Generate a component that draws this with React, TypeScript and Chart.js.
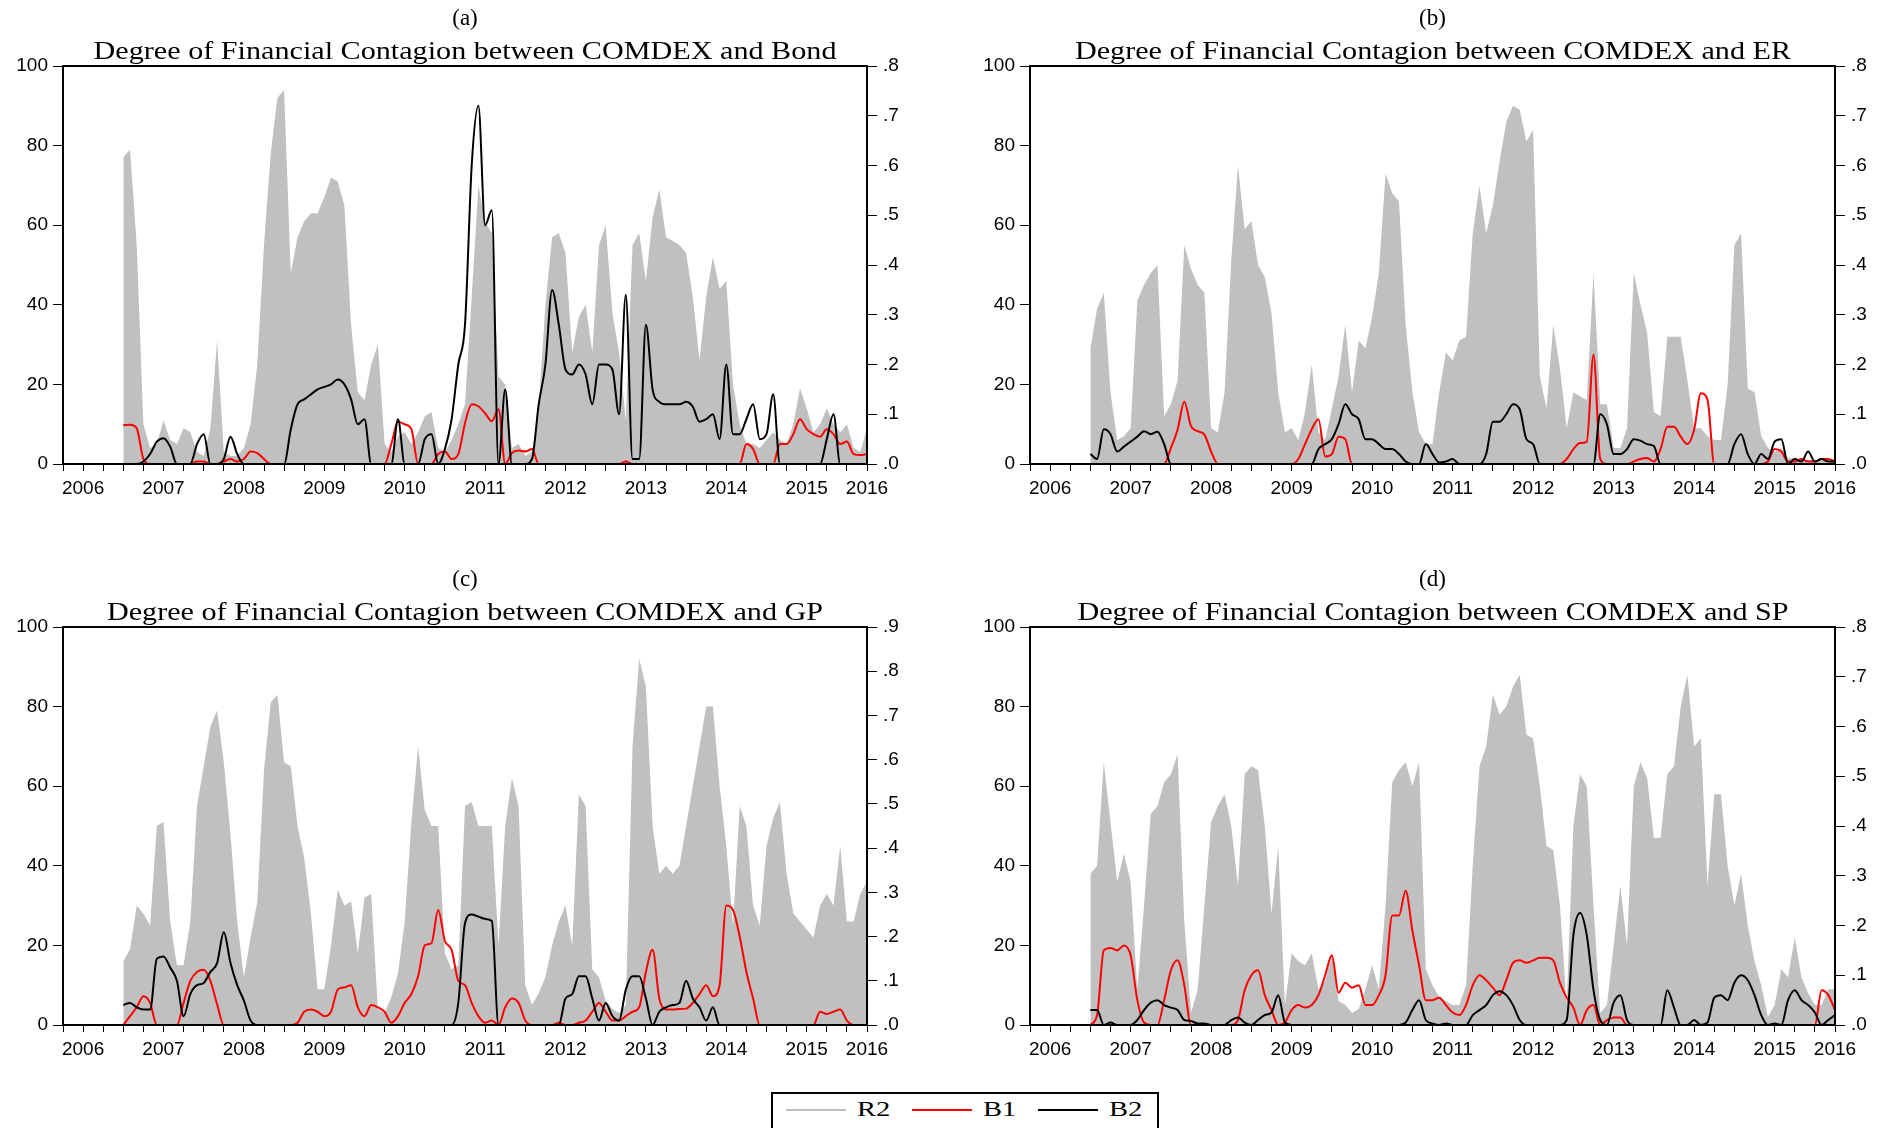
import React, { useEffect, useRef } from 'react';
import { Chart, registerables } from 'chart.js';

Chart.register(...registerables);

// x axis: months counted from Oct 2005 (0) to Sep 2015 (120); data start in July 2006 (month 9)
const START_MONTH = 9;
const X_MAX = 120;
const YEAR_LABELS = ['2006', '2007', '2008', '2009', '2010', '2011', '2012', '2013', '2014', '2015', '2016'];
const YEAR_LABEL_POS = [3, 15, 27, 39, 51, 63, 75, 87, 99, 111, 120];
const LEGEND_LABELS = ['R2', 'B1', 'B2'];

// ---------- (a) COMDEX and Bond ----------
const R2_A = [
  77, 79, 55, 10, 4, 5, 11, 6, 5, 9, 8, 3,
  2, 9, 31, 3, 2, 2, 4, 10, 25, 55, 78, 92,
  94, 48, 57, 61, 63, 63, 67, 72, 71, 65, 35, 18,
  16, 25, 30, 5, 3, 7, 8, 5, 8, 12, 13, 4,
  3, 6, 10, 15, 42, 70, 61, 58, 22, 20, 4, 5,
  2, 3, 14, 40, 57, 58, 53, 28, 37, 40, 28, 55,
  60, 38, 28, 11, 55, 58, 46, 62, 69, 57, 56, 55,
  53, 42, 26, 42, 52, 44, 46, 20, 10, 5, 5, 4,
  6, 8, 6, 5, 10, 19, 14, 8, 10, 14, 10, 8,
  10, 4, 3, 9,
];
const B1_A = [
  0.078, 0.079, 0.072, 0.01, 0, 0, 0, 0, 0, 0, 0, 0.005,
  0.005, 0, 0, 0.005, 0.01, 0.005, 0.01, 0.025, 0.022, 0.01, 0, 0,
  0, 0, 0, 0, 0, 0, 0, 0, 0, 0, 0, 0,
  0, 0, 0, 0, 0.04, 0.085, 0.08, 0.07, 0, 0, 0, 0.02,
  0.025, 0.01, 0.02, 0.082, 0.12, 0.116, 0.102, 0.086, 0.11, 0, 0.022, 0.027,
  0.025, 0.03, 0, 0, 0, 0, 0, 0, 0, 0, 0, 0,
  0, 0, 0, 0.005, 0, 0, 0, 0, 0, 0, 0, 0,
  0, 0, 0, 0, 0, 0, 0, 0, 0, 0.04, 0.03, 0,
  0, 0, 0.04, 0.04, 0.06, 0.09, 0.07, 0.06, 0.055, 0.07, 0.06, 0.04,
  0.045, 0.02, 0.018, 0.02,
];
const B2_A = [
  0, 0, 0, 0.005, 0.02, 0.045, 0.052, 0.035, 0, 0, 0, 0.04,
  0.06, 0, 0, 0.01, 0.055, 0.02, 0, 0, 0, 0, 0, 0,
  0, 0.07, 0.12, 0.13, 0.14, 0.15, 0.155, 0.16, 0.17, 0.16, 0.13, 0.08,
  0.09, 0, 0, 0, 0, 0.09, 0, 0, 0, 0.05, 0.06, 0,
  0.03, 0.09, 0.2, 0.28, 0.6, 0.72, 0.48, 0.51, 0, 0.15, 0, 0,
  0, 0.01, 0.12, 0.2, 0.35, 0.28, 0.19, 0.18, 0.2, 0.18, 0.12, 0.2,
  0.2, 0.19, 0.1, 0.34, 0.01, 0.01, 0.28, 0.15, 0.125, 0.12, 0.12, 0.12,
  0.125, 0.115, 0.085, 0.09, 0.1, 0.05, 0.2, 0.06, 0.06, 0.09, 0.12, 0.05,
  0.06, 0.14, 0, 0, 0, 0, 0, 0, 0, 0.05, 0.1, 0,
  0, 0, 0, 0,
];

// ---------- (b) COMDEX and ER ----------
const R2_B = [
  29, 39, 43, 18, 6, 7, 9, 41, 45, 48, 50, 12,
  15, 21, 55, 49, 45, 43, 9, 8, 18, 51, 75, 59,
  61, 50, 47, 38, 18, 8, 9, 6, 13, 25, 8, 6,
  14, 22, 35, 18, 31, 29, 37, 48, 73, 68, 66, 35,
  18, 8, 5, 5, 18, 28, 26, 31, 32, 58, 70, 58,
  65, 76, 86, 90, 89, 81, 84, 22, 14, 35, 24, 9,
  18, 17, 16, 48, 15, 15, 4, 4, 9, 48, 40, 33,
  13, 12, 32, 32, 32, 21, 9, 9, 7, 6, 6, 20,
  55, 58, 19, 18, 7, 4, 3, 4, 1.5, 1.5, 1, 1,
  1, 1, 1, 1,
];
const B1_B = [
  0, 0, 0, 0, 0, 0, 0, 0, 0, 0, 0, 0,
  0.032, 0.069, 0.125, 0.076, 0.066, 0.059, 0.025, 0, 0, 0, 0, 0,
  0, 0, 0, 0, 0, 0, 0, 0.01, 0.04, 0.07, 0.09, 0.015,
  0.02, 0.055, 0.05, 0, 0, 0, 0, 0, 0, 0, 0, 0,
  0, 0, 0, 0, 0, 0, 0, 0, 0, 0, 0, 0,
  0, 0, 0, 0, 0, 0, 0, 0, 0, 0, 0, 0.01,
  0.03, 0.042, 0.045, 0.22, 0.01, 0, 0, 0, 0, 0.005, 0.01, 0.012,
  0.005, 0.03, 0.075, 0.075, 0.055, 0.04, 0.069, 0.142, 0.129, 0, 0, 0,
  0, 0, 0, 0, 0, 0.005, 0.03, 0.025, 0.005, 0.005, 0.01, 0.005,
  0.005, 0.01, 0.01, 0.005,
];
const B2_B = [
  0.02, 0.01, 0.07, 0.06, 0.025, 0.035, 0.045, 0.055, 0.066, 0.06, 0.065, 0.04,
  0, 0, 0, 0, 0, 0, 0, 0, 0, 0, 0, 0,
  0, 0, 0, 0, 0, 0, 0, 0, 0, 0, 0.03, 0.04,
  0.05, 0.08, 0.12, 0.1, 0.09, 0.05, 0.05, 0.04, 0.03, 0.03, 0.02, 0.005,
  0, 0, 0.04, 0.02, 0.003, 0.005, 0.01, 0, 0, 0, 0, 0.02,
  0.085, 0.085, 0.1, 0.12, 0.11, 0.05, 0.04, 0, 0, 0, 0, 0,
  0, 0, 0, 0, 0.1, 0.08, 0.02, 0.02, 0.03, 0.05, 0.047, 0.04,
  0.036, 0, 0, 0, 0, 0, 0, 0, 0, 0, 0, 0,
  0.04, 0.06, 0.02, 0, 0.02, 0.01, 0.045, 0.05, 0, 0.01, 0.005, 0.025,
  0.005, 0.01, 0.005, 0.005,
];

// ---------- (c) COMDEX and GP ----------
const R2_C = [
  16, 19, 30, 28, 25, 50, 51, 26, 15, 15, 26, 55,
  65, 75, 79, 66, 48, 26, 12, 22, 31, 64, 81, 83,
  66, 65, 50, 42, 28, 9, 9, 20, 34, 30, 31, 18,
  32, 33, 4, 3, 7, 13, 26, 51, 70, 54, 50, 50,
  18, 14, 15, 55, 56, 50, 50, 50, 20, 50, 62, 55,
  10, 5, 8, 12, 20, 26, 30, 20, 58, 55, 14, 12,
  6, 4, 3, 5, 70, 92, 85, 50, 38, 40, 38, 40,
  50, 60, 70, 80, 80, 60, 45, 25, 55, 50, 30, 25,
  45, 52, 56, 38, 28, 26, 24, 22, 30, 33, 30, 45,
  26, 26, 33, 36,
];
const B1_C = [
  0, 0.02, 0.04, 0.065, 0.05, 0, 0, 0, 0, 0.05, 0.1, 0.12,
  0.125, 0.1, 0.047, 0, 0, 0, 0, 0, 0, 0, 0, 0,
  0, 0, 0.005, 0.03, 0.035, 0.03, 0.02, 0.03, 0.08, 0.085, 0.09, 0.04,
  0.02, 0.045, 0.04, 0.03, 0.005, 0.02, 0.05, 0.07, 0.11, 0.18, 0.185, 0.26,
  0.19, 0.17, 0.1, 0.09, 0.05, 0.02, 0.005, 0.01, 0, 0.04, 0.06, 0.05,
  0.01, 0, 0, 0, 0, 0.005, 0, 0, 0.005, 0.01, 0.03, 0.05,
  0.03, 0.01, 0.01, 0.02, 0.03, 0.04, 0.12, 0.17, 0.06, 0.035, 0.035, 0.036,
  0.037, 0.05, 0.07, 0.09, 0.065, 0.09, 0.27, 0.26, 0.2, 0.12, 0.06, 0,
  0, 0, 0, 0, 0, 0, 0, 0, 0.03, 0.025, 0.03, 0.035,
  0.01, 0, 0, 0,
];
const B2_C = [
  0.045, 0.05, 0.04, 0.035, 0.035, 0.15, 0.155, 0.13, 0.1, 0.02, 0.07, 0.09,
  0.095, 0.12, 0.14, 0.21, 0.14, 0.09, 0.055, 0.01, 0, 0, 0, 0,
  0, 0, 0, 0, 0, 0, 0, 0, 0, 0, 0, 0,
  0, 0, 0, 0, 0, 0, 0, 0, 0, 0, 0, 0,
  0, 0, 0.05, 0.23, 0.25, 0.245, 0.24, 0.235, 0, 0, 0, 0,
  0, 0, 0, 0, 0, 0, 0.06, 0.07, 0.11, 0.11, 0.06, 0.01,
  0.05, 0.02, 0.01, 0.08, 0.11, 0.11, 0.06, 0, 0.03, 0.04, 0.045, 0.05,
  0.1, 0.06, 0.04, 0.01, 0.04, 0, 0, 0, 0, 0, 0, 0,
  0, 0, 0, 0, 0, 0, 0, 0, 0, 0, 0, 0,
  0, 0, 0, 0,
];

// ---------- (d) COMDEX and SP ----------
const R2_D = [
  38, 40, 66, 51, 36, 43, 36, 9, 30, 53, 55, 61,
  63, 68, 26, 3, 9, 30, 51, 55, 58, 50, 35, 63,
  65, 64, 50, 28, 45, 5, 18, 16, 15, 18, 9, 11,
  18, 6, 5, 3, 4, 9, 15, 9, 30, 61, 64, 66,
  60, 66, 14, 10, 7, 6, 5, 5, 10, 40, 65, 70,
  83, 78, 80, 85, 88, 73, 72, 60, 45, 44, 30, 5,
  50, 63, 60, 30, 3, 5, 20, 35, 20, 60, 66, 62,
  47, 47, 63, 65, 80, 88, 70, 72, 35, 58, 58, 40,
  30, 38, 25, 16, 10, 2, 5, 14, 12, 22, 12, 8,
  5, 5, 9, 9,
];
const B1_D = [
  0, 0.02, 0.15, 0.155, 0.15, 0.16, 0.14, 0.05, 0.005, 0, 0, 0.05,
  0.11, 0.13, 0.08, 0, 0, 0, 0, 0, 0, 0, 0.01, 0.07,
  0.1, 0.11, 0.06, 0.03, 0, 0.005, 0.03, 0.04, 0.035, 0.04, 0.06, 0.1,
  0.14, 0.065, 0.085, 0.075, 0.08, 0.04, 0.04, 0.06, 0.1, 0.22, 0.22, 0.27,
  0.19, 0.12, 0.05, 0.05, 0.055, 0.04, 0.025, 0.02, 0.04, 0.08, 0.1, 0.09,
  0.075, 0.06, 0.09, 0.125, 0.13, 0.125, 0.13, 0.135, 0.135, 0.13, 0.085, 0.055,
  0.035, 0, 0.03, 0.04, 0, 0.01, 0.015, 0.015, 0, 0, 0, 0,
  0, 0, 0, 0, 0, 0, 0, 0, 0, 0, 0, 0,
  0, 0, 0, 0, 0, 0, 0, 0, 0, 0, 0, 0,
  0, 0.07, 0.06, 0.03,
];
const B2_D = [
  0.03, 0.03, 0, 0.005, 0, 0, 0, 0.01, 0.03, 0.045, 0.05, 0.04,
  0.035, 0.03, 0.01, 0.008, 0.003, 0.003, 0, 0, 0, 0.01, 0.015, 0.005,
  0, 0.01, 0.02, 0.025, 0.06, 0.005, 0, 0, 0, 0, 0, 0,
  0, 0, 0, 0, 0, 0, 0, 0, 0, 0, 0, 0.005,
  0.03, 0.05, 0.01, 0.003, 0, 0.003, 0, 0, 0, 0.02, 0.03, 0.04,
  0.06, 0.068, 0.06, 0.04, 0.01, 0, 0, 0, 0, 0, 0, 0.01,
  0.18, 0.225, 0.18, 0.07, 0.01, 0, 0.045, 0.06, 0.01, 0, 0, 0,
  0, 0, 0.07, 0.035, 0, 0, 0.01, 0, 0.005, 0.055, 0.06, 0.05,
  0.085, 0.1, 0.09, 0.06, 0.02, 0, 0.003, 0, 0.05, 0.07, 0.05, 0.04,
  0.025, 0, 0.01, 0.02,
];

const GREY = '#c0c0c0';
const RED = '#ff0000';
const BLACK = '#000000';
const TICK_FONT = { family: '"Liberation Sans", Arial, sans-serif', size: 19 };
const SERIF = '"Liberation Serif", "Times New Roman", serif';

const framePlugin = {
  id: 'frame',
  afterDatasetsDraw(chart: any) {
    const { ctx, chartArea } = chart;
    ctx.save();
    ctx.strokeStyle = '#000';
    ctx.lineWidth = 2;
    ctx.strokeRect(chartArea.left, chartArea.top, chartArea.right - chartArea.left, chartArea.bottom - chartArea.top);
    ctx.restore();
  },
};

type PanelProps = {
  left: number;
  top: number;
  width: number;
  height: number;
  areaLeft: number;
  areaRight: number;
  r2: number[];
  b1: number[];
  b2: number[];
  rightMax: number;
};

function Panel({ left, top, width, height, areaLeft, areaRight, r2, b1, b2, rightMax }: PanelProps) {
  const ref = useRef<HTMLCanvasElement | null>(null);
  useEffect(() => {
    if (!ref.current) return;
    const toPts = (arr: number[]) => arr.map((v, i) => ({ x: START_MONTH + i, y: v }));
    const rightTicks: number[] = [];
    for (let i = 0; i <= Math.round(rightMax * 10); i++) rightTicks.push(i / 10);
    const xTicks: number[] = [];
    for (let v = 0; v <= X_MAX; v += 3) xTicks.push(v);
    const chart = new Chart(ref.current, {
      type: 'line',
      data: {
        datasets: [
          {
            label: 'B2', data: toPts(b2), yAxisID: 'y1', borderColor: BLACK, borderWidth: 2,
            pointRadius: 0, fill: false, order: 1, cubicInterpolationMode: 'monotone',
          },
          {
            label: 'B1', data: toPts(b1), yAxisID: 'y1', borderColor: RED, borderWidth: 2,
            pointRadius: 0, fill: false, order: 2, cubicInterpolationMode: 'monotone',
          },
          {
            label: 'R2', data: toPts(r2), yAxisID: 'y', borderWidth: 0, borderColor: GREY,
            backgroundColor: GREY, fill: 'origin', pointRadius: 0, order: 3, tension: 0,
          },
        ],
      } as any,
      options: {
        animation: false,
        responsive: false,
        events: [],
        layout: { padding: { top: 66, left: 0, right: 0, bottom: 0 } },
        plugins: { legend: { display: false }, tooltip: { enabled: false }, title: { display: false } },
        scales: {
          x: {
            type: 'linear', min: 0, max: X_MAX,
            afterBuildTicks: (s: any) => { s.ticks = xTicks.map((value) => ({ value })); },
            afterFit: (s: any) => { s.height = height - 464; },
            ticks: {
              autoSkip: false, maxRotation: 0, minRotation: 0, padding: 6, color: '#000', font: TICK_FONT,
              callback: (v: any) => { const i = YEAR_LABEL_POS.indexOf(Number(v)); return i >= 0 ? YEAR_LABELS[i] : ''; },
            },
            grid: { drawOnChartArea: false, drawTicks: true, tickLength: 7, color: '#000', lineWidth: 1 },
            border: { display: false },
          },
          y: {
            position: 'left', min: 0, max: 100,
            afterFit: (s: any) => { s.width = areaLeft; },
            ticks: { stepSize: 20, padding: 5, color: '#000', font: TICK_FONT },
            grid: { drawOnChartArea: false, drawTicks: true, tickLength: 10, color: '#000', lineWidth: 1 },
            border: { display: false },
          },
          y1: {
            position: 'right', min: 0, max: rightMax,
            afterBuildTicks: (s: any) => { s.ticks = rightTicks.map((value) => ({ value })); },
            afterFit: (s: any) => { s.width = width - areaRight; },
            ticks: {
              padding: 6, color: '#000', font: TICK_FONT,
              callback: (v: any) => Number(v).toFixed(1).replace(/^0/, ''),
            },
            grid: { drawOnChartArea: false, drawTicks: true, tickLength: 10, color: '#000', lineWidth: 1 },
            border: { display: false },
          },
        },
      } as any,
      plugins: [framePlugin],
    });
    return () => chart.destroy();
  }, [width, height, areaLeft, areaRight, r2, b1, b2, rightMax]);
  return (
    <div style={{ position: 'absolute', left, top, width, height }}>
      <canvas ref={ref} width={width} height={height} style={{ display: 'block' }} />
    </div>
  );
}

function Text({ cx, top, size, sx, children, left }: { cx?: number; left?: number; top: number; size: number; sx: number; children: React.ReactNode }) {
  const centered = cx !== undefined;
  return (
    <div
      style={{
        position: 'absolute',
        left: centered ? cx : left,
        top,
        fontFamily: SERIF,
        fontSize: size,
        lineHeight: 1,
        whiteSpace: 'nowrap',
        color: '#000',
        transform: centered ? `translateX(-50%) scaleX(${sx})` : `scaleX(${sx})`,
        transformOrigin: centered ? 'center' : 'left',
        zIndex: 2,
      }}
    >
      {children}
    </div>
  );
}

export default function App() {
  const LEFT_CX = 465;
  const RIGHT_CX = 1432.5;
  const ROW2 = 561;
  return (
    <div style={{ position: 'absolute', left: 0, top: 0, width: 1888, height: 1128, background: '#fff', overflow: 'hidden' }}>
      <Panel left={0} top={0} width={944} height={520} areaLeft={63} areaRight={867} r2={R2_A} b1={B1_A} b2={B2_A} rightMax={0.8} />
      <Panel left={944} top={0} width={922} height={520} areaLeft={86} areaRight={891} r2={R2_B} b1={B1_B} b2={B2_B} rightMax={0.8} />
      <Panel left={0} top={ROW2} width={944} height={520} areaLeft={63} areaRight={867} r2={R2_C} b1={B1_C} b2={B2_C} rightMax={0.9} />
      <Panel left={944} top={ROW2} width={922} height={520} areaLeft={86} areaRight={891} r2={R2_D} b1={B1_D} b2={B2_D} rightMax={0.8} />

      <Text cx={LEFT_CX} top={6} size={23} sx={1}>(a)</Text>
      <Text cx={RIGHT_CX} top={6} size={23} sx={1}>(b)</Text>
      <Text cx={LEFT_CX} top={6 + ROW2} size={23} sx={1}>(c)</Text>
      <Text cx={RIGHT_CX} top={6 + ROW2} size={23} sx={1}>(d)</Text>

      <Text cx={LEFT_CX} top={38} size={26} sx={1.16}>Degree of Financial Contagion between COMDEX and Bond</Text>
      <Text cx={RIGHT_CX} top={38} size={26} sx={1.16}>Degree of Financial Contagion between COMDEX and ER</Text>
      <Text cx={LEFT_CX} top={38 + ROW2} size={26} sx={1.16}>Degree of Financial Contagion between COMDEX and GP</Text>
      <Text cx={RIGHT_CX} top={38 + ROW2} size={26} sx={1.16}>Degree of Financial Contagion between COMDEX and SP</Text>

      <div style={{ position: 'absolute', left: 771, top: 1092, width: 388, height: 60, border: '2px solid #000', boxSizing: 'border-box', background: '#fff' }} />
      <div style={{ position: 'absolute', left: 786, top: 1109, width: 60, height: 2, background: GREY }} />
      <div style={{ position: 'absolute', left: 912, top: 1109, width: 60, height: 2, background: RED }} />
      <div style={{ position: 'absolute', left: 1038, top: 1109, width: 60, height: 2, background: BLACK }} />
      <Text left={857} top={1098} size={22} sx={1.3}>{LEGEND_LABELS[0]}</Text>
      <Text left={983} top={1098} size={22} sx={1.3}>{LEGEND_LABELS[1]}</Text>
      <Text left={1109} top={1098} size={22} sx={1.3}>{LEGEND_LABELS[2]}</Text>
    </div>
  );
}
